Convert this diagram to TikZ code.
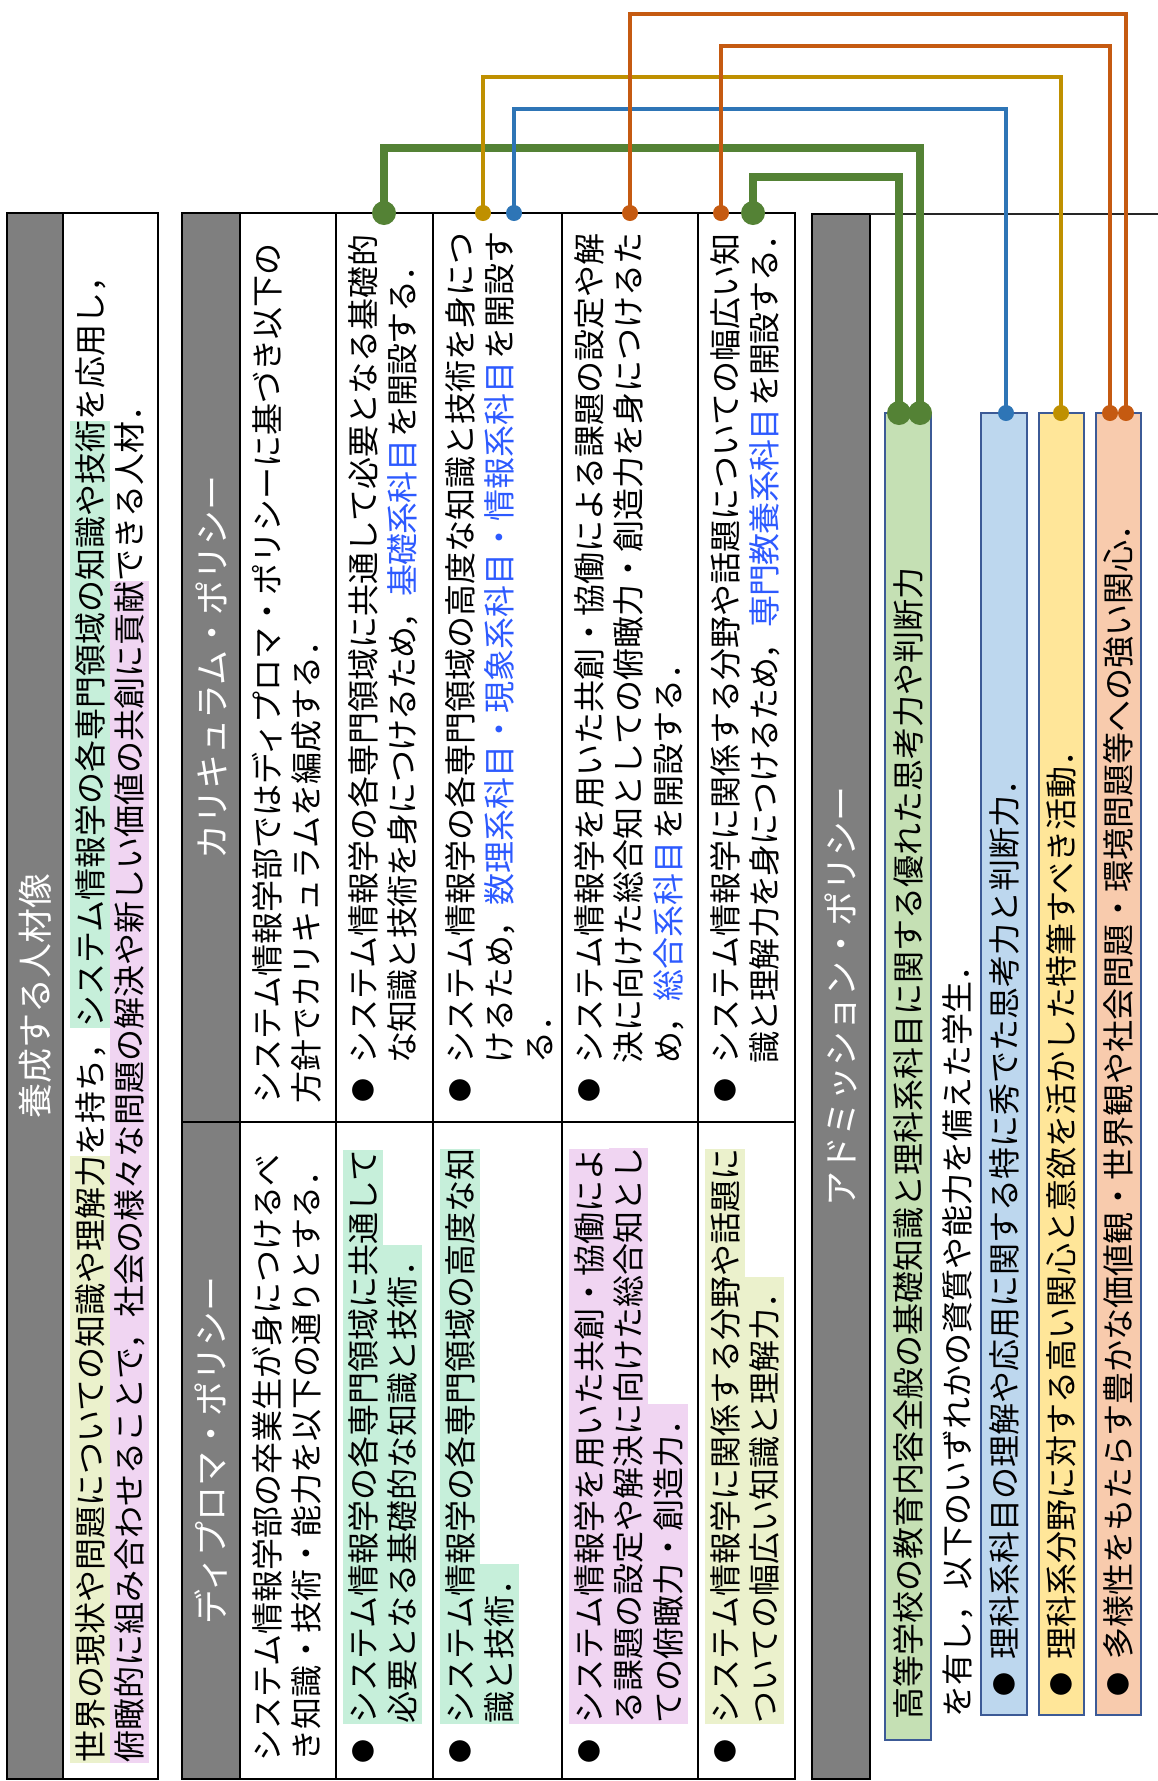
\documentclass[tikz,border=0pt]{standalone}
\usepackage{fontspec}
\setmainfont{Noto Sans CJK JP}
\definecolor{hdgray}{RGB}{127,127,127}
\definecolor{hlY}{RGB}{235,241,204}
\definecolor{hlM}{RGB}{198,239,218}
\definecolor{hlP}{RGB}{240,213,242}
\definecolor{kblue}{RGB}{45,90,255}
\definecolor{cG}{RGB}{84,130,53}
\definecolor{cY}{RGB}{191,144,0}
\definecolor{cB}{RGB}{46,117,182}
\definecolor{cO}{RGB}{197,90,17}
\definecolor{fG}{RGB}{197,224,180}
\definecolor{fB}{RGB}{189,215,238}
\definecolor{fY}{RGB}{255,230,153}
\definecolor{fO}{RGB}{248,203,173}
\definecolor{bxB}{RGB}{60,90,150}
\newcommand\HL[2]{{\setlength\fboxsep{0pt}\colorbox{#1}{\rule[-7.6pt]{0pt}{39.5pt}#2}}}
\newcommand\BL[1]{\textcolor{kblue}{#1}\hspace{2pt}}
\newcommand\TL[4]{\node[tl] (#1) at ({#2+12},#3) {#4};}
\begin{document}
\begin{tikzpicture}[x=1pt,y=-1pt,
  tl/.style={rotate=90, anchor=base west, inner sep=0pt, font=\fontsize{32}{40}\selectfont},
  tight/.style={font=\fontsize{32}{40}\selectfont\addfontfeatures{LetterSpace=-2.5}},
  hd/.style={rotate=90, anchor=center, inner sep=0pt, text=white, font=\fontsize{35}{42}\selectfont},
  bul/.style={rotate=90, anchor=center, inner sep=0pt, font=\fontsize{24}{28}\selectfont},
  frame/.style={draw=black, line width=2.6pt},
  sep/.style={draw=black, line width=2.4pt},
  abox/.style={draw=bxB, line width=2.6pt},
  conG/.style={draw=cG, line width=8pt, line join=miter},
  conT/.style={line width=4.6pt, line join=miter},
]
\useasboundingbox (0,0) rectangle (1158,1781);
% ---------- block 1 ----------
\fill[hdgray] (7,213) rectangle (63,1779);
\draw[frame] (7,213) rectangle (158,1779);
\draw[sep] (63,213) -- (63,1779);
\node[hd] (h1) at (35,996) {養成する人材像};
\TL{b1a}{90}{1763}{\HL{hlY}{世界の現状や問題についての知識や理解力}を持ち，\HL{hlM}{システム情報学の各専門領域の知識や技術}を応用し，}
\TL{b1b}{129.5}{1763}{\HL{hlP}{俯瞰的に組み合わせることで，社会の様々な問題の解決や新しい価値の共創に貢献}できる人材．}
% ---------- block 2 ----------
\fill[hdgray] (182,213) rectangle (240,1779);
\draw[frame] (182,213) rectangle (795,1779);
\draw[sep] (182,1122) -- (795,1122);
\foreach \xx in {240,336,433,562,698} \draw[sep] (\xx,213) -- (\xx,1779);
\node[hd] (h2) at (211,667.5) {カリキュラム・ポリシー};
\node[hd] (h3) at (211,1450.5) {ディプロマ・ポリシー};
% curriculum
\TL{ci1}{267}{1104}{システム情報学部ではディプロマ・ポリシーに基づき以下の}
\TL{ci2}{306.5}{1104}{方針でカリキュラムを編成する．}
\node[bul] (cb1) at (363,1090) {●};
\TL{c1a}{363}{1064}{システム情報学の各専門領域に共通して必要となる基礎的}
\node[tl, tight] (c1b) at (414.5,1064) {な知識と技術を身につけるため，\BL{基礎系科目}を開設する．};
\node[bul] (cb2) at (460,1090) {●};
\TL{c2a}{460}{1064}{システム情報学の各専門領域の高度な知識と技術を身につ}
\TL{c2b}{499.5}{1064}{けるため，\BL{数理系科目・現象系科目・情報系科目}を開設す}
\TL{c2c}{539}{1064}{る．}
\node[bul] (cb3) at (589,1090) {●};
\TL{c3a}{589}{1064}{システム情報学を用いた共創・協働による課題の設定や解}
\TL{c3b}{628.5}{1064}{決に向けた総合知としての俯瞰力・創造力を身につけるた}
\TL{c3c}{668}{1064}{め，\BL{総合系科目}を開設する．}
\node[bul] (cb4) at (725,1090) {●};
\TL{c4a}{725}{1064}{システム情報学に関係する分野や話題についての幅広い知}
\node[tl, tight] (c4b) at (776.5,1064) {識と理解力を身につけるため，\BL{専門教養系科目}を開設する．};
% diploma
\TL{di1}{267}{1762}{システム情報学部の卒業生が身につけるべ}
\TL{di2}{306.5}{1762}{き知識・技術・能力を以下の通りとする．}
\node[bul] (db1) at (363,1751) {●};
\TL{d1a}{363}{1724}{\HL{hlM}{システム情報学の各専門領域に共通して}}
\TL{d1b}{402.5}{1724}{\HL{hlM}{必要となる基礎的な知識と技術．}}
\node[bul] (db2) at (460,1751) {●};
\TL{d2a}{460}{1724}{\HL{hlM}{システム情報学の各専門領域の高度な知}}
\TL{d2b}{499.5}{1724}{\HL{hlM}{識と技術．}}
\node[bul] (db3) at (589,1751) {●};
\TL{d3a}{589}{1724}{\HL{hlP}{システム情報学を用いた共創・協働によ}}
\TL{d3b}{628.5}{1724}{\HL{hlP}{る課題の設定や解決に向けた総合知とし}}
\TL{d3c}{668}{1724}{\HL{hlP}{ての俯瞰力・創造力．}}
\node[bul] (db4) at (725,1751) {●};
\TL{d4a}{725}{1724}{\HL{hlY}{システム情報学に関係する分野や話題に}}
\TL{d4b}{764.5}{1724}{\HL{hlY}{ついての幅広い知識と理解力．}}
% ---------- admission ----------
\fill[hdgray] (812,214) rectangle (870,1779);
\draw[frame] (812,214) rectangle (870,1779);
\draw[draw=black!85, line width=2pt] (870,214) -- (1158,214);
\node[hd] (h4) at (841,996) {アドミッション・ポリシー};
\filldraw[abox, fill=fG] (885,413) rectangle (931,1740);
\filldraw[abox, fill=fB] (981,413) rectangle (1027,1715);
\filldraw[abox, fill=fY] (1039,413) rectangle (1084,1715);
\filldraw[abox, fill=fO] (1096,413) rectangle (1141,1715);
\TL{a1}{908}{1720}{高等学校の教育内容全般の基礎知識と理科系科目に関する優れた思考力や判断力}
\TL{a2}{957}{1718}{を有し，以下のいずれかの資質や能力を備えた学生．}
\node[bul] (ab1) at (1004,1684) {●};
\TL{a3}{1004}{1660}{理科系科目の理解や応用に関する特に秀でた思考力と判断力．}
\node[bul] (ab2) at (1061.5,1684) {●};
\TL{a4}{1061.5}{1660}{理科系分野に対する高い関心と意欲を活かした特筆すべき活動．}
\node[bul] (ab3) at (1118.5,1684) {●};
\TL{a5}{1118.5}{1660}{多様性をもたらす豊かな価値観・世界観や社会問題・環境問題等への強い関心．}
% ---------- connectors ----------
\coordinate (gS) at (384,213);  \coordinate (gE) at (920,413);
\coordinate (g2S) at (753,213); \coordinate (g2E) at (899,413);
\coordinate (bS) at (514,213);  \coordinate (bE) at (1006,413);
\coordinate (yS) at (483,213);  \coordinate (yE) at (1061,413);
\coordinate (o1S) at (630,213); \coordinate (o1E) at (1126,413);
\coordinate (o2S) at (721,213); \coordinate (o2E) at (1110,413);
\draw[conG] (gS) -- ++(0,-65) -| (gE);
\draw[conG] (g2S) -- ++(0,-36) -| (g2E);
\draw[conT, draw=cB] (bS) -- ++(0,-104) -| (bE);
\draw[conT, draw=cY] (yS) -- ++(0,-136) -| (yE);
\draw[conT, draw=cO] (o2S) -- ++(0,-167) -| (o2E);
\draw[conT, draw=cO] (o1S) -- ++(0,-199) -| (o1E);
\foreach \p in {gS,gE,g2S,g2E} \fill[cG] (\p) circle (12pt);
\foreach \p in {bS,bE} \fill[cB] (\p) circle (8pt);
\foreach \p in {yS,yE} \fill[cY] (\p) circle (8pt);
\foreach \p in {o1S,o1E,o2S,o2E} \fill[cO] (\p) circle (8pt);
\end{tikzpicture}
\end{document}
